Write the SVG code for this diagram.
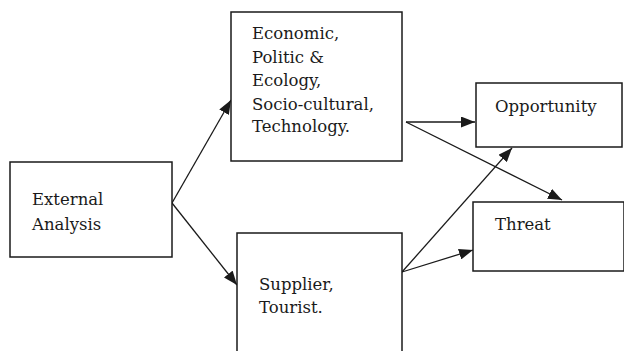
<svg xmlns="http://www.w3.org/2000/svg" width="624" height="351" viewBox="0 0 624 351">
<style>
.box{fill:#fff;stroke:#1a1a1a;stroke-width:1.5}
.t{font-family:"DejaVu Serif","Liberation Serif",serif;font-size:16.5px;fill:#1a1a1a}
.c{stroke:#1a1a1a;stroke-width:1.3;fill:none;marker-end:url(#ah)}
</style>
<defs>
<marker id="ah" viewBox="0 0 14 11" refX="14" refY="5.5" markerWidth="14" markerHeight="11" markerUnits="userSpaceOnUse" orient="auto">
<path d="M0,0 L14,5.5 L0,11 Z" fill="#1a1a1a"/>
</marker>
</defs>
<rect width="624" height="351" fill="#fff"/>
<g id="connectors">
<line class="c" x1="172" y1="203" x2="231" y2="100"/>
<line class="c" x1="172" y1="203" x2="237" y2="285"/>
<line class="c" x1="406" y1="122" x2="475" y2="122"/>
<line class="c" x1="406" y1="122" x2="562" y2="200"/>
<line class="c" x1="402" y1="272" x2="512" y2="148"/>
<line class="c" x1="402" y1="272" x2="473" y2="250"/>
</g>
<g id="external">
<rect class="box" x="10" y="162" width="162" height="95"/>
<text class="t" x="32" y="205">External</text>
<text class="t" x="32" y="230">Analysis</text>
</g>
<g id="factors">
<rect class="box" x="231" y="12" width="171" height="149"/>
<text class="t" x="252" y="39">Economic,</text>
<text class="t" x="252" y="63">Politic &amp;</text>
<text class="t" x="252" y="86">Ecology,</text>
<text class="t" x="252" y="110">Socio-cultural,</text>
<text class="t" x="252" y="132">Technology.</text>
</g>
<g id="supplier">
<rect class="box" x="237" y="233" width="165" height="130"/>
<text class="t" x="259" y="290">Supplier,</text>
<text class="t" x="259" y="313">Tourist.</text>
</g>
<g id="opportunity">
<rect class="box" x="476" y="83" width="146" height="64"/>
<text class="t" x="495" y="112">Opportunity</text>
</g>
<g id="threat">
<rect class="box" x="473" y="202" width="151" height="69"/>
<text class="t" x="495" y="230">Threat</text>
</g>
</svg>
